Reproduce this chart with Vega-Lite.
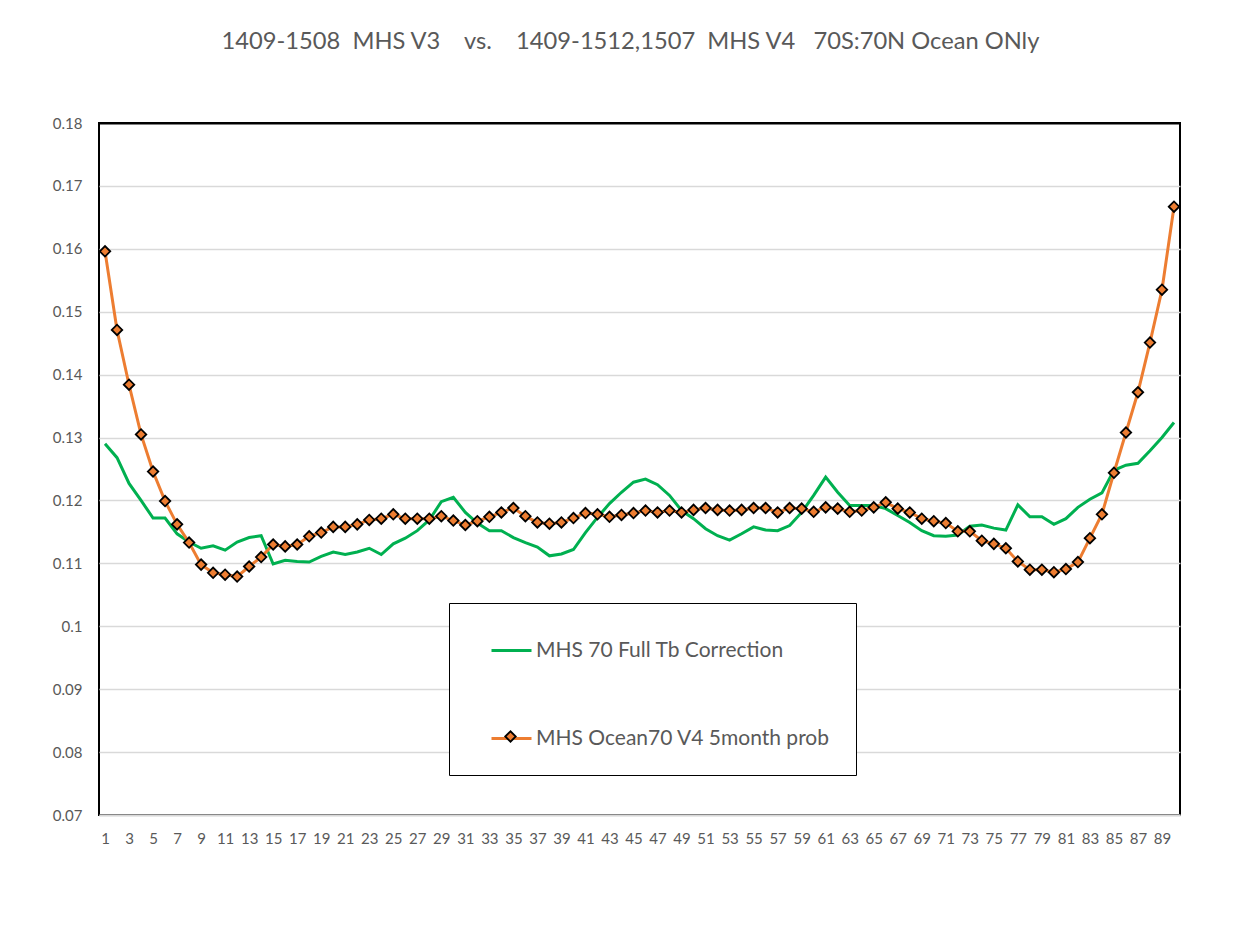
{
  "$schema": "https://vega.github.io/schema/vega-lite/v6.json",
  "autosize": {"type": "none"},
  "padding": {"left": 99, "top": 123, "right": 69, "bottom": 113},
  "width": 1081,
  "height": 692,
  "background": "white",
  "title": {
    "text": "1409-1508\u00a0\u00a0MHS V3\u00a0\u00a0\u00a0\u00a0vs.\u00a0\u00a0\u00a0\u00a01409-1512,1507\u00a0\u00a0MHS V4\u00a0\u00a0\u00a070S:70N Ocean ONly",
    "font": "Lato",
    "fontSize": 23.7,
    "fontWeight": "normal",
    "color": "#595959",
    "anchor": "middle",
    "dx": -9,
    "offset": 62
  },
  "config": {
    "view": {"stroke": "black", "strokeWidth": 2},
    "font": "Lato"
  },
  "data": {
    "values": [
      {"x": 1, "v3": 0.1290, "v4": 0.1596},
      {"x": 2, "v3": 0.1268, "v4": 0.1471},
      {"x": 3, "v3": 0.1227, "v4": 0.1384},
      {"x": 4, "v3": 0.1200, "v4": 0.1305},
      {"x": 5, "v3": 0.1172, "v4": 0.1246},
      {"x": 6, "v3": 0.1172, "v4": 0.1199},
      {"x": 7, "v3": 0.1147, "v4": 0.1162},
      {"x": 8, "v3": 0.1134, "v4": 0.1133},
      {"x": 9, "v3": 0.1124, "v4": 0.1098},
      {"x": 10, "v3": 0.1128, "v4": 0.1085},
      {"x": 11, "v3": 0.1121, "v4": 0.1082},
      {"x": 12, "v3": 0.1134, "v4": 0.1079},
      {"x": 13, "v3": 0.1141, "v4": 0.1095},
      {"x": 14, "v3": 0.1144, "v4": 0.1110},
      {"x": 15, "v3": 0.1099, "v4": 0.1130},
      {"x": 16, "v3": 0.1105, "v4": 0.1127},
      {"x": 17, "v3": 0.1103, "v4": 0.1130},
      {"x": 18, "v3": 0.1102, "v4": 0.1143},
      {"x": 19, "v3": 0.1111, "v4": 0.1149},
      {"x": 20, "v3": 0.1118, "v4": 0.1158},
      {"x": 21, "v3": 0.1114, "v4": 0.1158},
      {"x": 22, "v3": 0.1118, "v4": 0.1162},
      {"x": 23, "v3": 0.1124, "v4": 0.1169},
      {"x": 24, "v3": 0.1114, "v4": 0.1171},
      {"x": 25, "v3": 0.1131, "v4": 0.1178},
      {"x": 26, "v3": 0.1140, "v4": 0.1171},
      {"x": 27, "v3": 0.1152, "v4": 0.1171},
      {"x": 28, "v3": 0.1169, "v4": 0.1171},
      {"x": 29, "v3": 0.1198, "v4": 0.1175},
      {"x": 30, "v3": 0.1205, "v4": 0.1168},
      {"x": 31, "v3": 0.1181, "v4": 0.1161},
      {"x": 32, "v3": 0.1164, "v4": 0.1167},
      {"x": 33, "v3": 0.1152, "v4": 0.1174},
      {"x": 34, "v3": 0.1152, "v4": 0.1181},
      {"x": 35, "v3": 0.1141, "v4": 0.1188},
      {"x": 36, "v3": 0.1133, "v4": 0.1175},
      {"x": 37, "v3": 0.1126, "v4": 0.1165},
      {"x": 38, "v3": 0.1112, "v4": 0.1163},
      {"x": 39, "v3": 0.1115, "v4": 0.1165},
      {"x": 40, "v3": 0.1122, "v4": 0.1172},
      {"x": 41, "v3": 0.1149, "v4": 0.1180},
      {"x": 42, "v3": 0.1173, "v4": 0.1178},
      {"x": 43, "v3": 0.1195, "v4": 0.1174},
      {"x": 44, "v3": 0.1213, "v4": 0.1177},
      {"x": 45, "v3": 0.1229, "v4": 0.1180},
      {"x": 46, "v3": 0.1234, "v4": 0.1184},
      {"x": 47, "v3": 0.1225, "v4": 0.1181},
      {"x": 48, "v3": 0.1208, "v4": 0.1184},
      {"x": 49, "v3": 0.1184, "v4": 0.1181},
      {"x": 50, "v3": 0.1171, "v4": 0.1185},
      {"x": 51, "v3": 0.1155, "v4": 0.1188},
      {"x": 52, "v3": 0.1144, "v4": 0.1185},
      {"x": 53, "v3": 0.1137, "v4": 0.1184},
      {"x": 54, "v3": 0.1147, "v4": 0.1185},
      {"x": 55, "v3": 0.1158, "v4": 0.1188},
      {"x": 56, "v3": 0.1153, "v4": 0.1188},
      {"x": 57, "v3": 0.1152, "v4": 0.1181},
      {"x": 58, "v3": 0.1160, "v4": 0.1188},
      {"x": 59, "v3": 0.1181, "v4": 0.1187},
      {"x": 60, "v3": 0.1208, "v4": 0.1182},
      {"x": 61, "v3": 0.1237, "v4": 0.1189},
      {"x": 62, "v3": 0.1213, "v4": 0.1187},
      {"x": 63, "v3": 0.1192, "v4": 0.1182},
      {"x": 64, "v3": 0.1192, "v4": 0.1184},
      {"x": 65, "v3": 0.1192, "v4": 0.1189},
      {"x": 66, "v3": 0.1187, "v4": 0.1197},
      {"x": 67, "v3": 0.1176, "v4": 0.1187},
      {"x": 68, "v3": 0.1165, "v4": 0.1181},
      {"x": 69, "v3": 0.1152, "v4": 0.1171},
      {"x": 70, "v3": 0.1144, "v4": 0.1167},
      {"x": 71, "v3": 0.1143, "v4": 0.1164},
      {"x": 72, "v3": 0.1145, "v4": 0.1151},
      {"x": 73, "v3": 0.1159, "v4": 0.1151},
      {"x": 74, "v3": 0.1161, "v4": 0.1136},
      {"x": 75, "v3": 0.1156, "v4": 0.1131},
      {"x": 76, "v3": 0.1153, "v4": 0.1124},
      {"x": 77, "v3": 0.1193, "v4": 0.1103},
      {"x": 78, "v3": 0.1174, "v4": 0.1090},
      {"x": 79, "v3": 0.1174, "v4": 0.1090},
      {"x": 80, "v3": 0.1162, "v4": 0.1086},
      {"x": 81, "v3": 0.1171, "v4": 0.1091},
      {"x": 82, "v3": 0.1189, "v4": 0.1102},
      {"x": 83, "v3": 0.1202, "v4": 0.1140},
      {"x": 84, "v3": 0.1212, "v4": 0.1178},
      {"x": 85, "v3": 0.1248, "v4": 0.1244},
      {"x": 86, "v3": 0.1256, "v4": 0.1308},
      {"x": 87, "v3": 0.1259, "v4": 0.1372},
      {"x": 88, "v3": 0.1279, "v4": 0.1451},
      {"x": 89, "v3": 0.1300, "v4": 0.1535},
      {"x": 90, "v3": 0.1324, "v4": 0.1667}
    ]
  },
  "transform": [{"fold": ["v3", "v4"], "as": ["series", "value"]}],
  "encoding": {
    "x": {
      "field": "x",
      "type": "ordinal",
      "title": null,
      "scale": {"type": "point", "padding": 0.5},
      "axis": {
        "labelAngle": 0,
        "labelExpr": "datum.value % 2 == 1 ? datum.label : ''",
        "labelOverlap": false,
        "ticks": false,
        "grid": false,
        "domainColor": "#D9D9D9",
        "domainWidth": 2,
        "labelFont": "Lato",
        "labelFontSize": 15,
        "labelColor": "#595959",
        "labelPadding": 16
      }
    },
    "y": {
      "field": "value",
      "type": "quantitative",
      "title": null,
      "scale": {"domain": [0.07, 0.18], "nice": false, "zero": false},
      "axis": {
        "values": [0.07, 0.08, 0.09, 0.1, 0.11, 0.12, 0.13, 0.14, 0.15, 0.16, 0.17, 0.18],
        "format": ".2~f",
        "domain": false,
        "ticks": false,
        "grid": true,
        "gridColor": {"condition": {"test": "datum.value > 0.1795", "value": "black"}, "value": "#D9D9D9"},
        "gridWidth": {"condition": {"test": "datum.value > 0.1795", "value": 2}, "value": 1.5},
        "labelFont": "Lato",
        "labelFontSize": 15,
        "labelColor": "#595959",
        "labelPadding": 17
      }
    }
  },
  "layer": [
    {
      "mark": {"type": "line", "strokeWidth": 3},
      "encoding": {
        "color": {
          "field": "series",
          "type": "nominal",
          "scale": {"domain": ["v3", "v4"], "range": ["#00B050", "#ED7D31"]},
          "legend": {
            "orient": "none",
            "legendX": 350,
            "legendY": 480,
            "title": null,
            "symbolType": "stroke",
            "symbolSize": 1600,
            "symbolStrokeWidth": 3,
            "labelFont": "Lato",
            "labelFontSize": 21,
            "labelColor": "#595959",
            "labelLimit": 600,
            "labelOffset": 3,
            "rowPadding": 56,
            "padding": 26,
            "symbolOffset": 15,
            "strokeColor": "black",
            "fillColor": "white",
            "labelExpr": "(datum.value == 'v3' ? 'MHS 70 Full Tb Correction' : 'MHS Ocean70 V4 5month prob') + '\u00a0\u00a0\u00a0\u00a0\u00a0\u00a0\u00a0\u00a0'"
          }
        }
      }
    },
    {
      "transform": [{"filter": "datum.series == 'v4'"}],
      "mark": {"type": "point", "shape": "diamond", "filled": true, "size": 110, "stroke": "black", "strokeWidth": 1.8, "opacity": 1},
      "encoding": {
        "fill": {
          "field": "series",
          "type": "nominal",
          "scale": {"range": ["#ED7D31"]},
          "legend": {
            "orient": "none",
            "legendX": 405,
            "legendY": 607,
            "zindex": 5,
            "title": null,
            "symbolType": "diamond",
            "symbolSize": 110,
            "symbolStrokeColor": "black",
            "symbolStrokeWidth": 1.8,
            "symbolFillColor": "#ED7D31",
            "labelFontSize": 1,
            "labelExpr": "''",
            "padding": 0
          }
        }
      }
    }
  ]
}
